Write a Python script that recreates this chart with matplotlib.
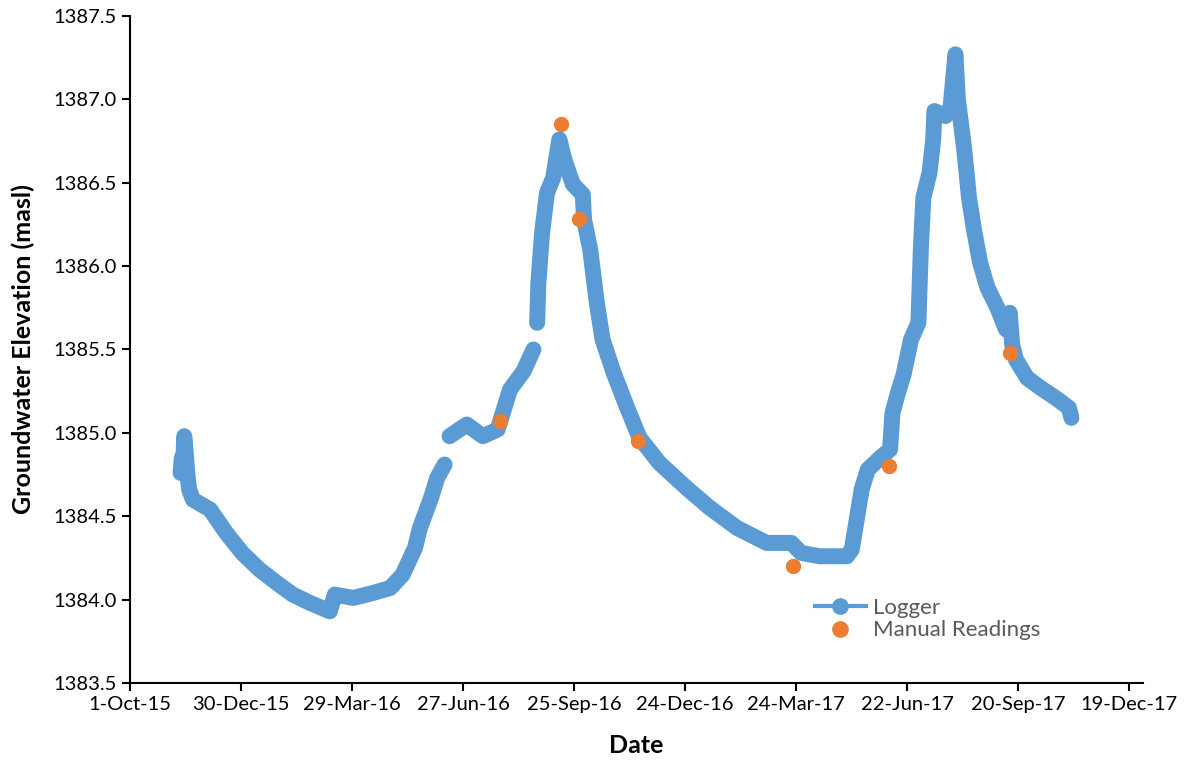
import numpy as np
import pandas as pd
import matplotlib
matplotlib.use("Agg")
import matplotlib.pyplot as plt
import matplotlib.dates as mdates
from matplotlib.lines import Line2D

plt.rcParams['font.family'] = ['Lato', 'DejaVu Sans']

# Logger record (NaN = break in the record)
logger_dates = [
    "2015-11-11", "2015-11-12", "2015-11-13", "2015-11-14", "2015-11-15", "2015-11-16",
    "2015-11-17", "2015-11-18", "2015-11-21", "2015-12-05", "2015-12-18", "2015-12-31",
    "2016-01-14", "2016-01-28", "2016-02-10", "2016-02-24", "2016-03-11", "2016-03-15",
    "2016-03-30", "2016-04-15", "2016-04-29", "2016-05-09", "2016-05-19", "2016-05-23",
    "2016-06-01", "2016-06-06", "2016-06-12", "2016-06-14",
    "2016-06-16", "2016-06-30", "2016-07-13", "2016-07-25", "2016-08-04", "2016-08-15",
    "2016-08-23", "2016-08-25",
    "2016-08-26", "2016-08-27", "2016-08-30", "2016-09-03", "2016-09-08", "2016-09-13",
    "2016-09-17", "2016-09-24", "2016-10-02", "2016-10-03", "2016-10-08", "2016-10-13",
    "2016-10-18", "2016-10-27", "2016-11-07", "2016-11-17", "2016-12-03", "2016-12-25",
    "2017-01-13", "2017-02-04", "2017-02-28", "2017-03-20", "2017-03-28", "2017-04-12",
    "2017-05-04", "2017-05-08", "2017-05-12", "2017-05-16", "2017-05-21", "2017-05-31",
    "2017-06-08", "2017-06-10", "2017-06-14", "2017-06-19", "2017-06-25", "2017-07-01",
    "2017-07-03", "2017-07-05", "2017-07-10", "2017-07-13", "2017-07-14", "2017-07-23",
    "2017-07-27", "2017-07-31", "2017-08-02", "2017-08-07", "2017-08-11", "2017-08-15",
    "2017-08-20", "2017-08-26", "2017-09-03", "2017-09-10", "2017-09-13", "2017-09-15",
    "2017-09-18", "2017-09-27", "2017-10-08", "2017-10-22", "2017-10-31", "2017-11-02",
]
logger_elev = [
    1384.76, 1384.85, 1384.78, 1384.98, 1384.90, 1384.80,
    1384.72, 1384.66, 1384.60, 1384.54, 1384.40, 1384.28,
    1384.18, 1384.10, 1384.03, 1383.98, 1383.93, 1384.03,
    1384.01, 1384.04, 1384.07, 1384.15, 1384.31, 1384.43,
    1384.61, 1384.73, 1384.81, np.nan,
    1384.98, 1385.05, 1384.98, 1385.02, 1385.26, 1385.37,
    1385.50, np.nan,
    1385.66, 1385.90, 1386.20, 1386.44, 1386.53, 1386.76,
    1386.64, 1386.49, 1386.43, 1386.28, 1386.10, 1385.80,
    1385.56, 1385.36, 1385.15, 1384.97, 1384.82, 1384.67,
    1384.55, 1384.43, 1384.34, 1384.34, 1384.28, 1384.26,
    1384.26, 1384.30, 1384.48, 1384.66, 1384.78, 1384.85,
    1384.90, 1385.12, 1385.23, 1385.35, 1385.56, 1385.66,
    1386.11, 1386.41, 1386.56, 1386.76, 1386.93, 1386.90,
    1386.95, 1387.27, 1387.00, 1386.71, 1386.41, 1386.22,
    1386.02, 1385.87, 1385.75, 1385.62, 1385.72, 1385.53,
    1385.44, 1385.33, 1385.27, 1385.20, 1385.15, 1385.09,
]

# Manual water level readings
manual_dates = ["2016-07-27", "2016-09-14", "2016-09-29", "2016-11-16",
                "2017-03-21", "2017-06-07", "2017-09-13"]
manual_elev = [1385.07, 1386.85, 1386.28, 1384.95, 1384.20, 1384.80, 1385.48]

blue = "#5B9BD5"
orange = "#ED7D31"

logger_t = pd.to_datetime(logger_dates)
manual_t = pd.to_datetime(manual_dates)

fig = plt.figure(figsize=(11.88, 7.61), dpi=100)
ax = fig.add_axes([0.1094, 0.1025, 0.8527, 0.8765])

# thick band for the logger trace
ax.plot(logger_t, logger_elev, color=blue, lw=11.5, solid_capstyle="round",
        solid_joinstyle="round", zorder=2)
ax.plot(manual_t, manual_elev, ls="none", marker="o", ms=10, color=orange,
        mec=orange, zorder=3)

start = pd.Timestamp("2015-10-01")
ticks = [start + pd.Timedelta(days=90 * k) for k in range(10)]
ax.set_xticks(ticks)
ax.xaxis.set_major_formatter(mdates.DateFormatter("%-d-%b-%y"))
ax.set_xlim(start, pd.Timestamp("2017-12-30"))

ax.set_ylim(1383.5, 1387.5)
ax.set_yticks(np.arange(1383.5, 1387.51, 0.5))
ax.yaxis.set_major_formatter(matplotlib.ticker.FormatStrFormatter("%.1f"))

for s in ("top", "right"):
    ax.spines[s].set_visible(False)
for s in ("left", "bottom"):
    ax.spines[s].set_linewidth(1.5)
ax.tick_params(direction="out", length=6, width=1.5, labelsize=14.5, colors="black")

ax.set_xlabel("Date", fontsize=18, fontweight="bold", labelpad=15)
ax.set_ylabel("Groundwater Elevation (masl)", fontsize=18, fontweight="bold", labelpad=13)

handles = [
    Line2D([], [], color=blue, lw=3, marker="o", ms=11),
    Line2D([], [], color=orange, ls="none", marker="o", ms=11),
]
leg = ax.legend(handles, ["Logger", "Manual Readings"], loc="upper left",
                bbox_to_anchor=(0.656, 0.157), frameon=False, fontsize=16,
                handlelength=2.3, handletextpad=0.35, labelspacing=0.1)
for t in leg.get_texts():
    t.set_color("#595959")

fig.savefig("out.png", dpi=100)
